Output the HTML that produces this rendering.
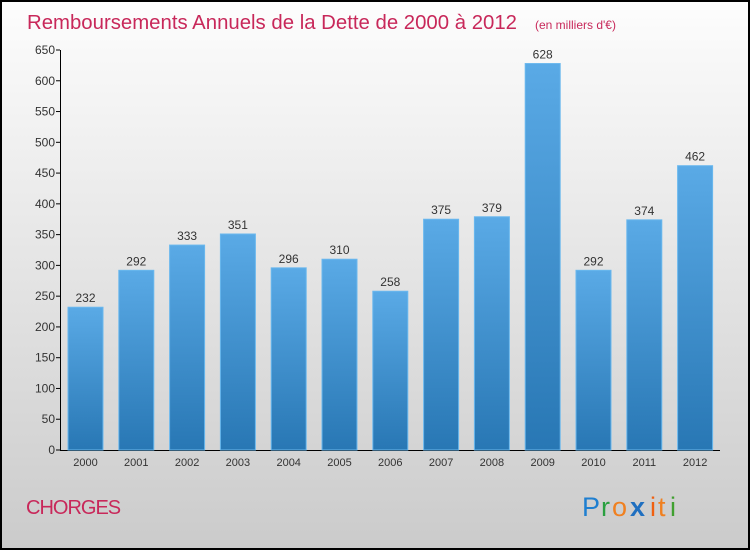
<!DOCTYPE html>
<html><head><meta charset="utf-8"><style>
body{margin:0;width:750px;height:550px;overflow:hidden}
svg{display:block;font-family:"Liberation Sans",sans-serif}
</style></head><body>
<svg width="750" height="550">
<defs>
<linearGradient id="bg" x1="0" y1="0" x2="0" y2="1"><stop offset="0" stop-color="#fdfdfd"/><stop offset="1" stop-color="#cbcbcb"/></linearGradient>
<linearGradient id="bar" x1="0" y1="0" x2="0" y2="1"><stop offset="0" stop-color="#5aaae6"/><stop offset="1" stop-color="#2877b4"/></linearGradient>
</defs>
<rect x="1" y="1" width="748" height="548" fill="url(#bg)" stroke="#000" stroke-width="2"/>
<text x="27" y="29" font-size="20.5" fill="#c8285a" textLength="490" lengthAdjust="spacingAndGlyphs">Remboursements Annuels de la Dette de 2000 à 2012</text>
<text x="535" y="29" font-size="12" fill="#c8285a">(en milliers d'€)</text>
<g id="yaxis"></g><g id="bars"></g>
<text x="26" y="514" font-size="20" fill="#c8285a" letter-spacing="-1">CHORGES</text>
<g font-size="27" font-family="'Liberation Sans',sans-serif">
<text x="582" y="516" fill="#1f7fd0">P</text><text x="601" y="516" fill="#2aa040">r</text><text x="612" y="516" fill="#f08020">o</text><text x="630" y="516" fill="#1f6fc0" font-weight="bold">x</text><text x="650" y="516" fill="#f06010">i</text><text x="658" y="516" fill="#f08020">t</text><text x="670" y="516" fill="#40a030">i</text>
</g>
</svg>
<script>
const categories=["2000","2001","2002","2003","2004","2005","2006","2007","2008","2009","2010","2011","2012"];
const values=[232,292,333,351,296,310,258,375,379,628,292,374,462];
const yTicks=[0,50,100,150,200,250,300,350,400,450,500,550,600,650];
const NS="http://www.w3.org/2000/svg";
const y=v=>450-v*400/650;
const x=i=>85.5+i*50.8;
function mk(tag,attrs,parent,txt){const e=document.createElementNS(NS,tag);for(const k in attrs)e.setAttribute(k,attrs[k]);if(txt!=null)e.textContent=txt;parent.appendChild(e);return e;}
const ya=document.getElementById('yaxis'),bg=document.getElementById('bars');
yTicks.forEach(t=>{
 const l=mk('line',{x1:56,x2:60,y1:y(t),y2:y(t),stroke:'#000'},ya);
 
 
 const tx=mk('text',{x:55,y:y(t)+4,'text-anchor':'end','font-size':12,fill:'#333'},ya,t);
 
 
});
values.forEach((v,i)=>{
 const r=mk('rect',{x:x(i)-17.5,y:y(v),width:35,height:450-y(v),fill:'url(#bar)',stroke:'#6ab8ee','stroke-width':1},bg);
 
 
 const lb=mk('text',{x:x(i),y:y(v)-5,'text-anchor':'middle','font-size':12,fill:'#333'},bg,v);
 
 
 const c=mk('text',{x:x(i),y:466,'text-anchor':'middle','font-size':11,fill:'#333'},bg,categories[i]);
 
 
});
const ax=mk('path',{d:'M60.5 50V450.5H720',stroke:'#000',fill:'none'},ya);


</script>
</body></html>
